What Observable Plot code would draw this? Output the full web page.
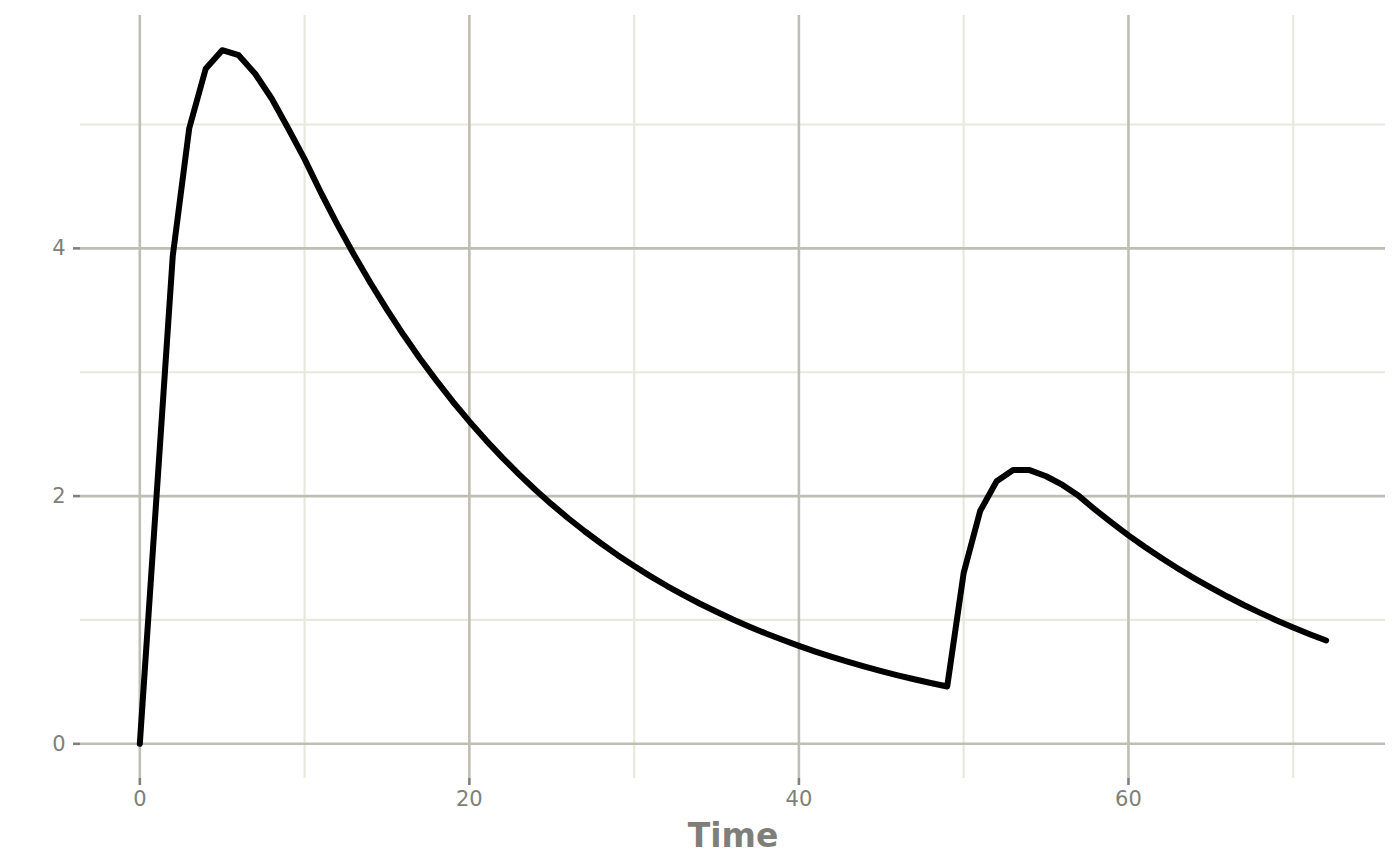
<!DOCTYPE html>
<html>
<head>
<meta charset="utf-8">
<script src="https://cdn.jsdelivr.net/npm/d3@7"></script>
<script src="https://cdn.jsdelivr.net/npm/@observablehq/plot@0.6"></script>
<style>
  html, body { margin: 0; padding: 0; background: #ffffff; }
  svg { display: block; }
</style>
</head>
<body>
<div id="chart"></div>
<script>
// Time (hours)
const time = [0,1,2,3,4,5,6,7,8,9,10,11,12,13,14,15,16,17,18,19,20,21,22,23,24,25,26,27,28,29,30,31,32,33,34,35,36,37,38,39,40,41,42,43,44,45,46,47,48,49,50,51,52,53,54,55,56,57,58,59,60,61,62,63,64,65,66,67,68,69,70,71,72];
// Concentration
const conc = [
  0, 1.97, 3.94, 4.97, 5.45, 5.60, 5.56, 5.41, 5.21, 4.97,
  4.72, 4.447, 4.190, 3.948, 3.720, 3.505, 3.302, 3.111, 2.932, 2.762,
  2.603, 2.452, 2.311, 2.177, 2.051, 1.933, 1.821, 1.716, 1.617, 1.523,
  1.435, 1.352, 1.274, 1.200, 1.131, 1.066, 1.004, 0.946, 0.891, 0.840,
  0.791, 0.745, 0.702, 0.662, 0.623, 0.587, 0.553, 0.521, 0.491, 0.463,
  1.38, 1.88, 2.12, 2.21, 2.21, 2.16, 2.09, 2.000, 1.888, 1.783,
  1.683, 1.589, 1.500, 1.416, 1.336, 1.261, 1.189, 1.121, 1.057, 0.996,
  0.939, 0.885, 0.834
];

const xMajor = [0, 20, 40, 60];
const xMinor = [10, 30, 50, 70];
const yMajor = [0, 2, 4];
const yMinor = [1, 3, 5];
const xTitle = "Time";

const data = time.map((t, i) => ({time: t, conc: conc[i]}));

const font = "DejaVu Sans, sans-serif";
const majorGrid = "#bebeb4";
const minorGrid = "#e8e8dc";
const textGrey = "#7f7f7a";

const chart = Plot.plot({
  width: 1400,
  height: 865,
  marginLeft: 80,
  marginRight: 15,
  marginTop: 15,
  marginBottom: 87,
  style: {fontFamily: font, background: "#ffffff"},
  x: {domain: [-3.6, 75.6]},
  y: {domain: [-0.28, 5.88]},
  marks: [
    Plot.gridX(xMinor, {stroke: minorGrid, strokeOpacity: 1, strokeWidth: 2.2}),
    Plot.gridY(yMinor, {stroke: minorGrid, strokeOpacity: 1, strokeWidth: 2.2}),
    Plot.gridX(xMajor, {stroke: majorGrid, strokeOpacity: 1, strokeWidth: 2.6}),
    Plot.gridY(yMajor, {stroke: majorGrid, strokeOpacity: 1, strokeWidth: 2.6}),
    Plot.axisX(xMajor, {tickSize: 7, tickPadding: 6, stroke: "#808080", strokeWidth: 2.6, fill: textGrey, fontSize: 21, tickFormat: d => String(d), label: null}),
    Plot.axisY(yMajor, {tickSize: 7, tickPadding: 8, stroke: "#808080", strokeWidth: 2.6, fill: textGrey, fontSize: 21, tickFormat: d => String(d), label: null}),
    Plot.line(data, {x: "time", y: "conc", stroke: "#000000", strokeWidth: 6}),
    Plot.text([xTitle], {frameAnchor: "bottom", lineAnchor: "middle", dy: 58, text: d => d, fontSize: 33, fontWeight: "bold", fill: textGrey})
  ]
});
document.getElementById("chart").appendChild(chart);
</script>
</body>
</html>
